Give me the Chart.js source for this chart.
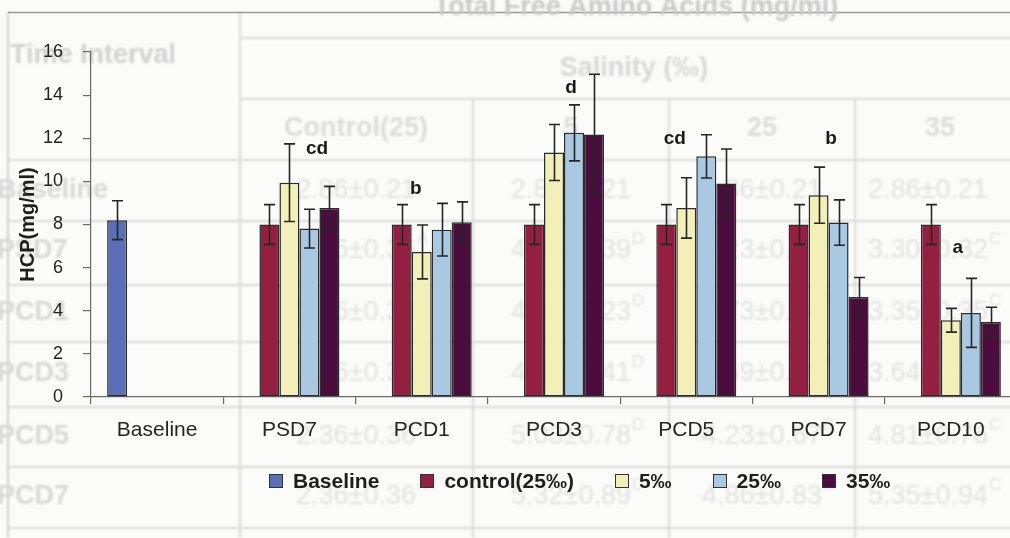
<!DOCTYPE html>
<html>
<head>
<meta charset="utf-8">
<script src="https://cdn.jsdelivr.net/npm/chart.js@4/dist/chart.umd.min.js"></script>
<style>
  html, body { margin: 0; padding: 0; background: #fbfbfa; overflow: hidden; width: 1010px; height: 538px; }
  #wrap { position: relative; width: 1017px; height: 538px; }
  #legend { position: absolute; left: 269px; top: 469px; display: flex; align-items: center;
            font: bold 21px "Liberation Sans", Arial, sans-serif; color: #1e1e1e; white-space: nowrap; }
  .item { display: flex; align-items: center; margin-right: 41px; }
  .box { width: 12px; height: 12px; border: 1px solid #333; margin-right: 10px; box-sizing: content-box; }
</style>
</head>
<body>
<div id="wrap">
  <canvas id="c" width="1017" height="538"></canvas>
  <div id="legend"></div>
</div>
<script>
// Sampling times
const categories = ['Baseline', 'PSD7', 'PCD1', 'PCD3', 'PCD5', 'PCD7', 'PCD10'];

// HCP (mg/ml) means and error half-widths per group
const baseline    = [8.2, null, null, null, null, null, null];
const baselineErr = [0.9, null, null, null, null, null, null];
const control     = [null, 8.0, 8.0, 8.0, 8.0, 8.0, 8.0];
const controlErr  = [null, 0.92, 0.92, 0.92, 0.92, 0.92, 0.92];
const sal5        = [null, 9.94, 6.73, 11.34, 8.77, 9.36, 3.56];
const sal5Err     = [null, 1.8, 1.25, 1.3, 1.4, 1.3, 0.55];
const sal25       = [null, 7.81, 7.76, 12.25, 11.16, 8.09, 3.9];
const sal25Err    = [null, 0.9, 1.22, 1.3, 1.0, 1.05, 1.6];
const sal35       = [null, 8.77, 8.1, 12.17, 9.9, 4.64, 3.48];
const sal35Err    = [null, 1.0, 0.95, 2.8, 1.6, 0.9, 0.68];

// Significance letters and the level (mg/ml) they sit at
const sigLetters = ['', 'cd', 'b', 'd', 'cd', 'b', 'a'];
const sigLevels  = [null, 11.5, 9.66, 14.36, 11.98, 11.98, 6.9];

// Y axis ticks
const yTicks = [0, 2, 4, 6, 8, 10, 12, 14, 16];

// Table printed on the page underneath the chart
const tableHeaders = ['Control(25)', '5', '25', '35'];
const tableRows = ['Baseline', 'PSD7', 'PCD1', 'PCD3', 'PCD5', 'PCD7'];
const tableCells = [
  ['2.86±0.21', '2.86±0.21', '2.86±0.21', '2.86±0.21'],
  ['2.36±0.36|A', '4.33±0.39|D', '2.23±0.31|A', '3.30±0.32|C'],
  ['2.36±0.36|A', '4.61±1.23|D', '2.73±0.40|A', '3.35±0.35|C'],
  ['2.36±0.36|A', '4.45±0.41|D', '3.69±0.46|A', '3.64±0.69|C'],
  ['2.36±0.36|A', '5.03±0.78|D', '4.23±0.67|B', '4.81±0.76|C'],
  ['2.36±0.36|A', '5.32±0.89|D', '4.86±0.83|B', '5.35±0.94|C']
];

const FAMILY = '"Liberation Sans", Arial, sans-serif';

// Faint, slightly soft table drawn first, behind everything
const tablePlugin = {
  id: 'pageTable',
  beforeDraw(chart) {
    const ctx = chart.ctx;
    ctx.save();
    ctx.fillStyle = '#fbfbfa';
    ctx.fillRect(0, 0, chart.width, chart.height);
    ctx.filter = 'blur(0.9px)';
    // grid lines
    ctx.strokeStyle = '#dadada';
    ctx.lineWidth = 2;
    const H = (y, x0) => { ctx.beginPath(); ctx.moveTo(x0, y); ctx.lineTo(chart.width, y); ctx.stroke(); };
    const V = (x, y0) => { ctx.beginPath(); ctx.moveTo(x, y0); ctx.lineTo(x, chart.height); ctx.stroke(); };
    H(38, 240); H(99, 240);
    [160, 221, 285, 342, 407, 467, 528].forEach(y => H(y, 8));
    V(240, 12); V(473, 99); V(669, 99); V(855, 99);
    ctx.strokeStyle = '#cfcfcf';
    V(8, 12);
    ctx.filter = 'none';
    ctx.strokeStyle = '#999';
    ctx.lineWidth = 1.3;
    ctx.beginPath(); ctx.moveTo(8, 12.5); ctx.lineTo(chart.width, 12.5); ctx.stroke();
    ctx.filter = 'blur(1px)';

    ctx.textBaseline = 'middle';
    ctx.textAlign = 'left';
    ctx.font = 'bold 27px ' + FAMILY;
    ctx.fillStyle = '#d2d2d2';
    ctx.fillText('Time Interval', 10, 56);
    const rowY = [191, 251, 313, 374, 437, 497];
    ctx.fillStyle = '#d8d8d8';
    tableRows.forEach((r, i) => ctx.fillText(r, -3, rowY[i]));
    ctx.fillStyle = '#c9c9c9';
    ctx.textAlign = 'center';
    ctx.fillText('Total Free Amino Acids (mg/ml)', 636, 8);
    ctx.fillStyle = '#d8d8d8';
    ctx.fillText('Salinity (‰)', 634, 69);
    const headX = [356, 571, 762, 940];
    ctx.fillStyle = '#dcdcdc';
    tableHeaders.forEach((h, i) => ctx.fillText(h, headX[i], 129));
    const colX = [356, 571, 762, 928];
    ctx.fillStyle = '#e2e2e2';
    tableCells.forEach((row, i) => {
      row.forEach((cell, k) => {
        const [txt, sup] = cell.split('|');
        ctx.font = '27px ' + FAMILY;
        const w = ctx.measureText(txt).width;
        const x0 = colX[k] - w / 2;
        ctx.textAlign = 'left';
        ctx.fillText(txt, x0, rowY[i]);
        if (sup) {
          ctx.font = '17px ' + FAMILY;
          ctx.fillText(sup, x0 + w + 1, rowY[i] - 12);
        }
      });
    });
    ctx.restore();
  }
};

// Error bars on each bar
const errorBarPlugin = {
  id: 'errorBars',
  afterDatasetsDraw(chart) {
    const ctx = chart.ctx;
    const y = chart.scales.y;
    ctx.save();
    ctx.strokeStyle = '#262626';
    ctx.lineWidth = 1.6;
    chart.data.datasets.forEach((ds, i) => {
      const meta = chart.getDatasetMeta(i);
      meta.data.forEach((bar, j) => {
        const v = ds.data[j];
        const e = ds.err[j];
        if (v == null || e == null) return;
        const x = Math.round(bar.x) + 0.5;
        const yt = y.getPixelForValue(v + e);
        const yb = y.getPixelForValue(v - e);
        const cap = 5.5;
        ctx.beginPath();
        ctx.moveTo(x, yt); ctx.lineTo(x, yb);
        ctx.moveTo(x - cap, yt); ctx.lineTo(x + cap, yt);
        ctx.moveTo(x - cap, yb); ctx.lineTo(x + cap, yb);
        ctx.stroke();
      });
    });
    ctx.restore();
  }
};

// Significance letters, placed in bar-width units from the group centre
const letterShift = [0, 1.38, -0.29, 0.85, -0.57, 0.62, 0.35];
const letterPlugin = {
  id: 'sigLetters',
  afterDraw(chart) {
    const ctx = chart.ctx;
    const xs = chart.scales.x, ys = chart.scales.y;
    const barW = chart.getDatasetMeta(1).data[1].width;
    ctx.save();
    ctx.fillStyle = '#1a1a1a';
    ctx.font = 'bold 19px ' + FAMILY;
    ctx.textAlign = 'center';
    ctx.textBaseline = 'middle';
    sigLetters.forEach((t, j) => {
      if (!t) return;
      ctx.fillText(t, xs.getPixelForValue(j) + letterShift[j] * barW, ys.getPixelForValue(sigLevels[j]));
    });
    ctx.restore();
  }
};

const chart = new Chart(document.getElementById('c'), {
  type: 'bar',
  data: {
    labels: categories,
    datasets: [
      { label: 'Baseline', data: baseline, err: baselineErr, backgroundColor: '#5b6fb7' },
      { label: 'control(25‰)', data: control, err: controlErr, backgroundColor: '#931f41' },
      { label: '5‰', data: sal5, err: sal5Err, backgroundColor: '#f3efb9' },
      { label: '25‰', data: sal25, err: sal25Err, backgroundColor: '#a9c9e2' },
      { label: '35‰', data: sal35, err: sal35Err, backgroundColor: '#4b0d3d' }
    ]
  },
  options: {
    responsive: false,
    animation: false,
    devicePixelRatio: 1,
    layout: { padding: { top: 52, left: 0, right: 0, bottom: 0 } },
    datasets: {
      bar: { barPercentage: 1, categoryPercentage: 0.756, borderWidth: 1.5,
             borderColor: '#2b2b2b', borderSkipped: false }
    },
    plugins: { legend: { display: false }, tooltip: { enabled: false } },
    scales: {
      x: {
        grid: { drawOnChartArea: false, tickLength: 7, color: '#6a6a6a', offset: true, lineWidth: 1.2 },
        border: { color: '#6a6a6a', width: 1.2 },
        ticks: { font: { size: 21, family: FAMILY }, color: '#252525', padding: 14, autoSkip: false, maxRotation: 0 },
        afterFit(s) { s.height = 141; }
      },
      y: {
        min: 0, max: 16,
        afterBuildTicks(s) { s.ticks = yTicks.map(v => ({ value: v })); },
        grid: { drawOnChartArea: false, tickLength: 8, color: '#6a6a6a', lineWidth: 1.2 },
        border: { color: '#6a6a6a', width: 1.2 },
        ticks: { font: { size: 18, family: FAMILY }, color: '#222', padding: 20 },
        title: { display: true, text: 'HCP(mg/ml)', color: '#1e1e1e',
                 font: { size: 20, weight: 'bold', family: FAMILY }, padding: { top: 16, bottom: 0 } },
        afterFit(s) { s.width = 91; }
      }
    }
  },
  plugins: [tablePlugin, errorBarPlugin, letterPlugin]
});

// Legend row below the axis, built from the datasets
const legendEl = document.getElementById('legend');
chart.data.datasets.forEach(ds => {
  const item = document.createElement('div');
  item.className = 'item';
  const box = document.createElement('span');
  box.className = 'box';
  box.style.background = ds.backgroundColor;
  const label = document.createElement('span');
  label.textContent = ds.label;
  item.appendChild(box);
  item.appendChild(label);
  legendEl.appendChild(item);
});
</script>
</body>
</html>
